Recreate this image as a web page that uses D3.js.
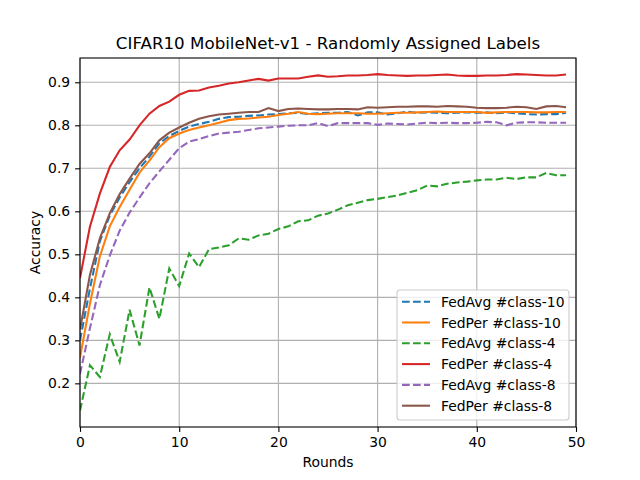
<!DOCTYPE html>
<html>
<head>
<meta charset="utf-8">
<script src="https://cdn.jsdelivr.net/npm/d3@7"></script>
<style>
  body { margin: 0; background: #fff; }
  text { font-family: "DejaVu Sans", sans-serif; fill: #000; }
</style>
</head>
<body>
<div id="chart"></div>
<script>
// rounds 0..49
var rounds = d3.range(0, 50);

var fedAvg10 = [0.30,0.42,0.53,0.59,0.632,0.668,0.70,0.727,0.758,0.775,0.787,0.797,0.803,0.808,0.815,0.819,0.82,0.822,0.823,0.825,
  0.826,0.828,0.829,0.826,0.828,0.829,0.829,0.831,0.823,0.83,0.83,0.825,0.828,0.832,0.829,0.83,0.829,0.828,0.829,0.83,
  0.829,0.83,0.828,0.83,0.828,0.826,0.825,0.826,0.826,0.829];
var fedPer10 = [0.26,0.385,0.495,0.565,0.61,0.65,0.69,0.718,0.749,0.77,0.781,0.789,0.795,0.80,0.806,0.812,0.815,0.816,0.818,0.82,
  0.824,0.827,0.831,0.827,0.826,0.827,0.828,0.828,0.828,0.827,0.827,0.828,0.829,0.829,0.83,0.831,0.832,0.831,0.831,0.831,
  0.831,0.829,0.83,0.831,0.831,0.831,0.83,0.83,0.831,0.831];
var fedAvg4 = [0.137,0.242,0.215,0.314,0.25,0.371,0.288,0.423,0.35,0.467,0.426,0.502,0.47,0.512,0.516,0.521,0.537,0.534,0.544,0.548,
  0.559,0.565,0.577,0.579,0.59,0.595,0.604,0.614,0.62,0.626,0.629,0.633,0.637,0.643,0.649,0.66,0.658,0.664,0.667,0.669,
  0.672,0.674,0.674,0.678,0.675,0.679,0.679,0.689,0.684,0.684];
var fedPer4 = [0.445,0.564,0.641,0.703,0.742,0.767,0.8,0.827,0.845,0.855,0.871,0.88,0.881,0.888,0.892,0.897,0.9,0.904,0.908,0.904,
  0.909,0.909,0.909,0.913,0.916,0.913,0.914,0.916,0.916,0.917,0.919,0.917,0.916,0.915,0.916,0.916,0.917,0.918,0.916,0.915,
  0.915,0.916,0.916,0.917,0.919,0.918,0.917,0.916,0.916,0.918];
var fedAvg8 = [0.222,0.328,0.428,0.497,0.555,0.597,0.632,0.665,0.693,0.72,0.747,0.762,0.768,0.775,0.781,0.783,0.785,0.789,0.793,0.795,
  0.797,0.799,0.8,0.8,0.805,0.798,0.805,0.805,0.805,0.805,0.801,0.804,0.803,0.802,0.804,0.806,0.805,0.806,0.805,0.805,
  0.806,0.808,0.807,0.8,0.806,0.807,0.807,0.806,0.806,0.806];
var fedPer8 = [0.325,0.452,0.537,0.595,0.64,0.676,0.71,0.735,0.765,0.783,0.795,0.806,0.815,0.821,0.825,0.827,0.829,0.831,0.831,0.84,
  0.833,0.838,0.839,0.838,0.837,0.837,0.838,0.838,0.837,0.842,0.841,0.842,0.843,0.843,0.844,0.844,0.843,0.845,0.844,0.843,
  0.841,0.84,0.84,0.841,0.843,0.842,0.838,0.844,0.845,0.842];

var seriesNames = ["FedAvg #class-10", "FedPer #class-10", "FedAvg #class-4", "FedPer #class-4", "FedAvg #class-8", "FedPer #class-8"];
var seriesValues = [fedAvg10, fedPer10, fedAvg4, fedPer4, fedAvg8, fedPer8];
var seriesColors = ["#1f77b4", "#ff7f0e", "#2ca02c", "#d62728", "#9467bd", "#8c564b"];
var seriesDashed = [true, false, true, false, true, false];

var xTicks = [0, 10, 20, 30, 40, 50];
var yTicks = [0.2, 0.3, 0.4, 0.5, 0.6, 0.7, 0.8, 0.9];

var W = 640, H = 480;
var margin = { top: 58, right: 64, bottom: 53, left: 80 },
    width = W - margin.left - margin.right,
    height = H - margin.top - margin.bottom;

var svg = d3.select("#chart").append("svg")
    .attr("width", W).attr("height", H);

var g = svg.append("g")
    .attr("transform", "translate(" + margin.left + "," + margin.top + ")");

var x = d3.scaleLinear().domain([0, 50]).range([0, width]);
var y = d3.scaleLinear().domain([0.0985, 0.9565]).range([height, 0]);

// grid
g.append("g").selectAll("line").data(xTicks).enter().append("line")
    .attr("x1", d => x(d)).attr("x2", d => x(d))
    .attr("y1", 0).attr("y2", height)
    .attr("stroke", "#b0b0b0").attr("stroke-width", 1.1);
g.append("g").selectAll("line").data(yTicks).enter().append("line")
    .attr("y1", d => y(d)).attr("y2", d => y(d))
    .attr("x1", 0).attr("x2", width)
    .attr("stroke", "#b0b0b0").attr("stroke-width", 1.1);

// lines
var line = d3.line()
    .x(function (d, i) { return x(rounds[i]); })
    .y(function (d) { return y(d); });

var clip = svg.append("defs").append("clipPath").attr("id", "clip")
    .append("rect").attr("width", width).attr("height", height);

g.append("g").attr("clip-path", "url(#clip)")
    .selectAll("path").data(seriesValues).enter().append("path")
    .attr("d", d => line(d))
    .attr("fill", "none")
    .attr("stroke", (d, i) => seriesColors[i])
    .attr("stroke-width", 2.08)
    .attr("stroke-dasharray", (d, i) => seriesDashed[i] ? "7.7,3.3" : null);

// axes
var xAxis = g.append("g")
    .attr("transform", "translate(0," + height + ")")
    .call(d3.axisBottom(x).tickValues(xTicks).tickSize(4.9).tickPadding(4.9).tickFormat(d3.format("d")));
var yAxis = g.append("g")
    .call(d3.axisLeft(y).tickValues(yTicks).tickSize(4.9).tickPadding(4.9).tickFormat(d3.format(".1f")));
[xAxis, yAxis].forEach(function (a) {
    a.select(".domain").remove();
    a.selectAll("line").attr("stroke", "#000").attr("stroke-width", 1.1);
    a.selectAll("text").style("font-size", "13.9px").attr("fill", "#000")
        .style("font-family", "DejaVu Sans, sans-serif");
});

// frame
g.append("rect")
    .attr("width", width).attr("height", height)
    .attr("fill", "none").attr("stroke", "#000").attr("stroke-width", 1.1);

// title and labels
svg.append("text")
    .attr("x", margin.left + width / 2).attr("y", 49)
    .attr("text-anchor", "middle")
    .style("font-size", "16.7px")
    .text("CIFAR10 MobileNet-v1 - Randomly Assigned Labels");

svg.append("text")
    .attr("x", margin.left + width / 2).attr("y", 467)
    .attr("text-anchor", "middle")
    .style("font-size", "13.9px")
    .text("Rounds");

svg.append("text")
    .attr("transform", "translate(40," + (margin.top + height / 2) + ") rotate(-90)")
    .attr("text-anchor", "middle")
    .style("font-size", "13.9px")
    .text("Accuracy");

// legend
var legend = svg.append("g").attr("transform", "translate(397,290)");
legend.append("rect")
    .attr("width", 172).attr("height", 130)
    .attr("rx", 3).attr("ry", 3)
    .attr("fill", "#fff").attr("fill-opacity", 0.8)
    .attr("stroke", "#cccccc").attr("stroke-width", 1.1);

var items = legend.selectAll("g.item").data(seriesNames).enter().append("g")
    .attr("class", "item")
    .attr("transform", (d, i) => "translate(0," + (11.7 + i * 20.8) + ")");
items.append("line")
    .attr("x1", 5).attr("x2", 33)
    .attr("stroke", (d, i) => seriesColors[i])
    .attr("stroke-width", 2.08)
    .attr("stroke-dasharray", (d, i) => seriesDashed[i] ? "7.7,3.3" : null);
items.append("text")
    .attr("x", 44).attr("y", 5)
    .style("font-size", "13.9px")
    .text(d => d);
</script>
</body>
</html>
